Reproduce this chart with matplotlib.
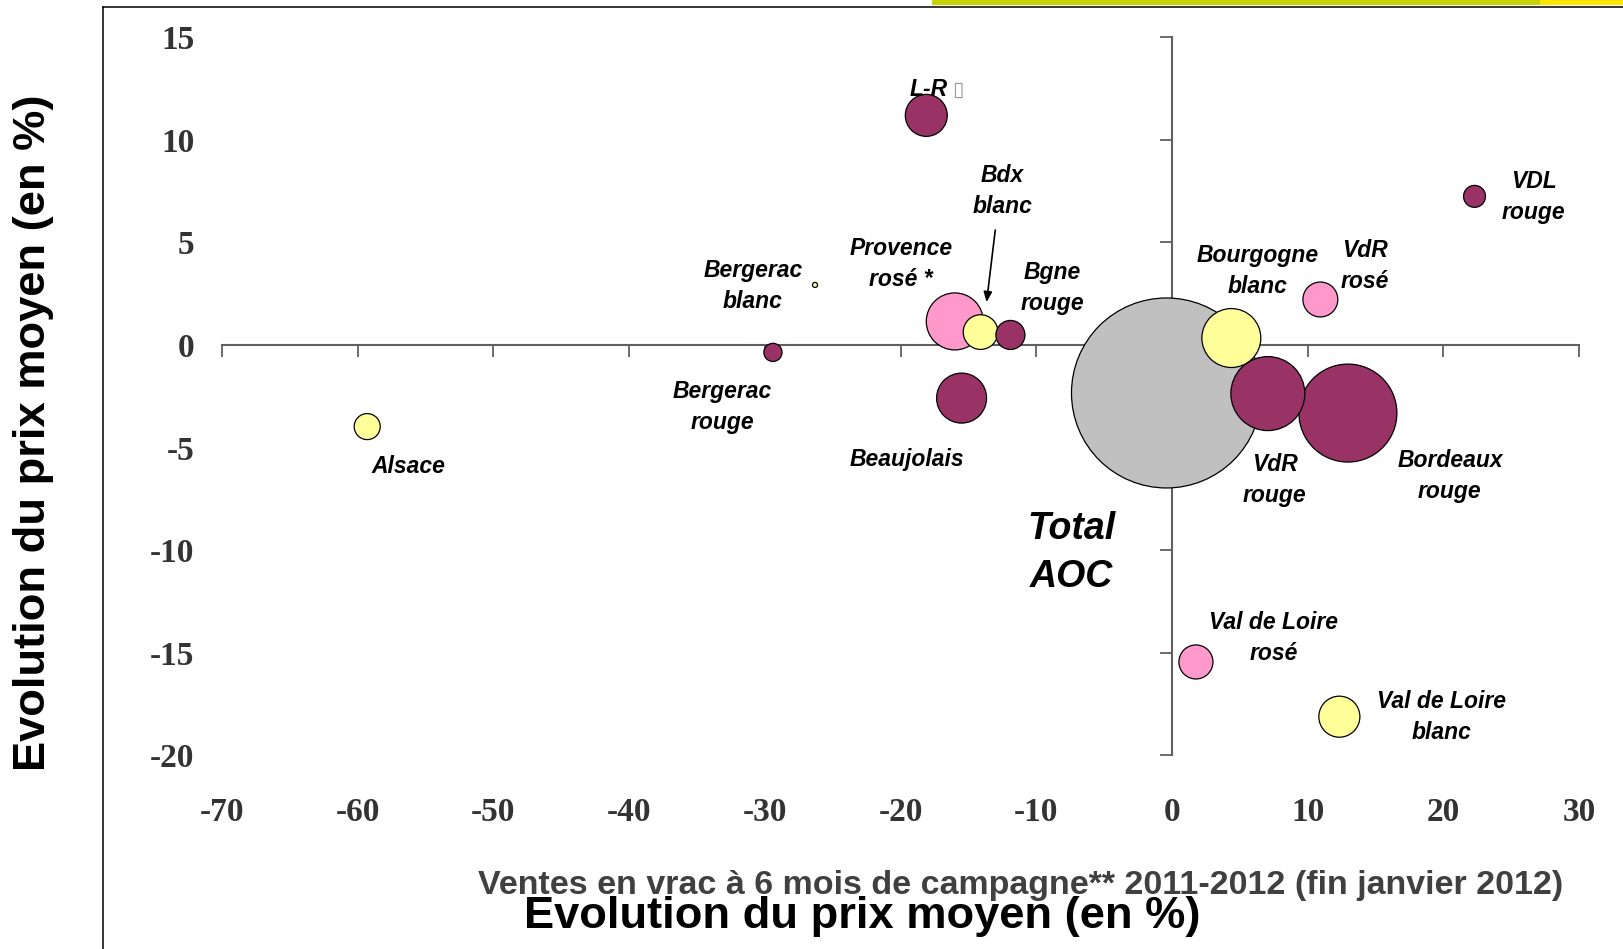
import matplotlib.pyplot as plt
import numpy as np
from matplotlib.lines import Line2D
from matplotlib.patches import Rectangle
from matplotlib.transforms import offset_copy

# donnees
appellations = ["Total AOC", "Bordeaux rouge", "VdR rouge", "Bourgogne blanc", "Provence rosé *",
                "Beaujolais", "L-R", "Val de Loire blanc", "Bdx blanc", "VdR rosé", "Val de Loire rosé",
                "Bgne rouge", "Alsace", "VDL rouge", "Bergerac rouge", "Bergerac blanc"]
etiquettes = ["Total\nAOC", "Bordeaux\nrouge", "VdR\nrouge", "Bourgogne\nblanc", "Provence\nrosé *",
              "Beaujolais", "L-R", "Val de Loire\nblanc", "Bdx\nblanc", "VdR\nrosé", "Val de Loire\nrosé",
              "Bgne\nrouge", "Alsace", "VDL\nrouge", "Bergerac\nrouge", "Bergerac\nblanc"]
types = ["total", "rouge", "rouge", "blanc", "rosé", "rouge", "rouge", "blanc", "blanc", "rosé", "rosé",
         "rouge", "blanc", "rouge", "rouge", "blanc"]
evolVentes = [-0.4, 12.97, 7.07, 4.38, -16.0, -15.5, -18.1, 12.34, -14.1, 10.94, 1.77,
              -11.9, -59.3, 22.3, -29.4, -26.3]
evolPrix = [-2.34, -3.32, -2.37, 0.34, 1.15, -2.59, 11.2, -18.13, 0.63, 2.22, -15.46,
            0.49, -3.98, 7.25, -0.36, 2.93]
volumes = [2400, 638, 364, 231, 216, 166, 117, 112, 80, 81, 77, 56, 45, 32, 22, 1.7]

ticksX = list(range(-70, 31, 10))
ticksY = list(range(-20, 16, 5))

couleurs = {"rouge": "#993366", "blanc": "#ffff99", "rosé": "#ff99cc", "total": "#c0c0c0"}

# decalage des etiquettes (pixels) par rapport a la bulle
decalages = {"Total AOC": (-95, -160), "Bordeaux rouge": (102, -63), "VdR rouge": (7, -86),
             "Bourgogne blanc": (26.5, 67), "Provence rosé *": (-54, 57), "Beaujolais": (-55, -61),
             "L-R": (2, 26), "Val de Loire blanc": (102, 0), "Bdx blanc": (22, 141),
             "VdR rosé": (44.5, 33.5), "Val de Loire rosé": (78, 23.5), "Bgne rouge": (42, 47),
             "Alsace": (41.5, -39.5), "VDL rouge": (59, -0.5), "Bergerac rouge": (-50.7, -55),
             "Bergerac blanc": (-62, -1.5)}

plt.rcParams['font.family'] = ['Liberation Sans', 'DejaVu Sans']
plt.rcParams['axes.unicode_minus'] = False

fig = plt.figure(figsize=(16.24, 9.49), dpi=100)
ax = fig.add_axes([0.1367, 0.2044, 0.8356, 0.7561])
ax.set_xlim(-70, 30)
ax.set_ylim(-20, 15)

# axes qui se croisent en 0
gris = "#5f5f5f"
ax.spines['left'].set_position(('data', 0))
ax.spines['bottom'].set_position(('data', 0))
ax.spines['top'].set_visible(False)
ax.spines['right'].set_visible(False)
for s in ['left', 'bottom']:
    ax.spines[s].set_color(gris)
    ax.spines[s].set_linewidth(1.5)
ax.set_xticks(ticksX)
ax.set_yticks(ticksY)
ax.tick_params(direction='out', length=8.6, width=1.3, color=gris, labelbottom=False, labelleft=False)
ax.patch.set_visible(False)

# etiquettes des graduations en bas et a gauche
secX = ax.secondary_xaxis(0.0)
secX.set_xticks(ticksX)
secX.spines['bottom'].set_visible(False)
secX.tick_params(length=0, pad=30)
secY = ax.secondary_yaxis(0.0)
secY.set_yticks(ticksY)
secY.spines['left'].set_visible(False)
secY.tick_params(length=0, pad=20)
for lab in secX.get_xticklabels() + secY.get_yticklabels():
    lab.set_fontfamily('Liberation Serif')
    lab.set_fontweight('bold')
    lab.set_fontsize(24)
    lab.set_color('#333333')

# bulles : les grosses derriere
ordre = np.argsort(volumes)[::-1]
x = np.array(evolVentes)[ordre]
y = np.array(evolPrix)[ordre]
v = np.array(volumes)[ordre]
diam = 2 * 95 * np.sqrt(v / max(volumes)) * 0.72
ax.scatter(x, y, s=diam ** 2, c=[couleurs[types[i]] for i in ordre],
           edgecolors='black', linewidths=0.9, zorder=3, clip_on=False)

for i, nom in enumerate(appellations):
    taille = 27 if nom == "Total AOC" else 16.5
    ax.annotate(etiquettes[i], (evolVentes[i], evolPrix[i]), xytext=decalages[nom],
                textcoords='offset pixels', ha='center', va='center', fontsize=taille,
                fontweight='bold', fontstyle='italic', linespacing=1.45, zorder=4)

# petit carre apres L-R
iLR = appellations.index("L-R")
ax.annotate("\u25af", (evolVentes[iLR], evolPrix[iLR]), xytext=(32, 26), textcoords='offset pixels',
            ha='center', va='center', fontsize=15, color='#999999', family='DejaVu Sans')

# fleche Bdx blanc
iB = appellations.index("Bdx blanc")
pointe = offset_copy(ax.transData, fig=fig, x=6, y=30, units='dots')
ax.annotate("", xy=(evolVentes[iB], evolPrix[iB]), xycoords=pointe, xytext=(8.7, 72),
            textcoords='offset pixels',
            arrowprops=dict(arrowstyle='-|>,head_length=0.6,head_width=0.25', color='black',
                            lw=1.2, shrinkA=0, shrinkB=0))

# titres
fig.text(0.0209, 0.5437, "Evolution du prix moyen (en %)", rotation=90, ha='center', va='center',
         fontsize=32.6, fontweight='bold')
fig.text(0.6287, 0.0669, "Ventes en vrac à 6 mois de campagne** 2011-2012 (fin janvier 2012)",
         ha='center', va='center', fontsize=24.5, fontweight='bold', color='#404040')
fig.text(0.5308, 0.0341, "Evolution du prix moyen (en %)", ha='center', va='center',
         fontsize=32.6, fontweight='bold')

# cadre et bandeau du haut
fig.add_artist(Line2D([103.5 / 1624, 103.5 / 1624], [0, 1 - 7 / 949], transform=fig.transFigure,
                      color='black', lw=1.1))
fig.add_artist(Line2D([103.5 / 1624, 1], [1 - 7 / 949, 1 - 7 / 949], transform=fig.transFigure,
                      color='black', lw=1.1))
fig.add_artist(Rectangle((932 / 1624, 1 - 4.5 / 949), 608 / 1624, 4.5 / 949, transform=fig.transFigure,
                         color='#c8d400', lw=0))
fig.add_artist(Rectangle((1540 / 1624, 1 - 4.5 / 949), 84 / 1624, 4.5 / 949, transform=fig.transFigure,
                         color='#ffe500', lw=0))

plt.savefig("out.png", dpi=100)
